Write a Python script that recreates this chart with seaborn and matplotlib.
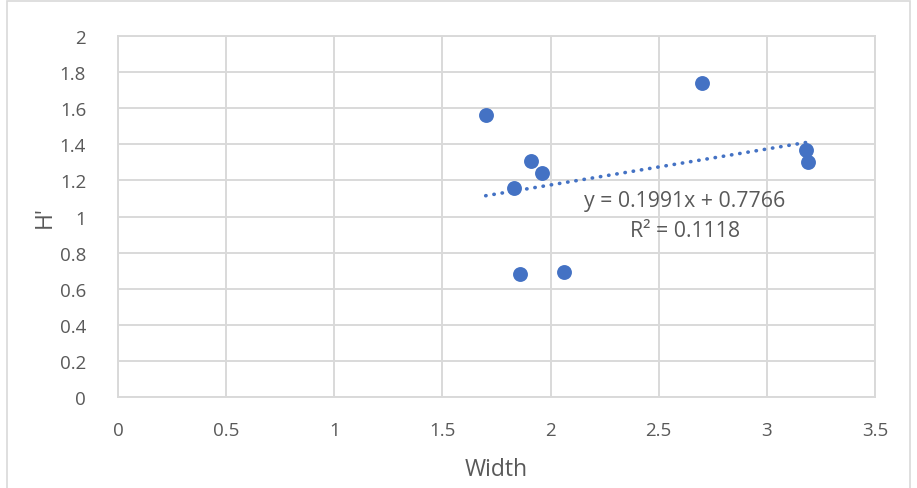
import numpy as np
import pandas as pd
import seaborn as sns
import matplotlib.pyplot as plt
from matplotlib.patches import Rectangle

# values
width = [1.70, 1.83, 1.91, 1.96, 1.86, 2.06, 2.70, 3.18, 3.19]
h_prime = [1.56, 1.16, 1.31, 1.24, 0.68, 0.69, 1.74, 1.37, 1.30]
x_ticks = [0, 0.5, 1, 1.5, 2, 2.5, 3, 3.5]
y_ticks = [0, 0.2, 0.4, 0.6, 0.8, 1, 1.2, 1.4, 1.6, 1.8, 2]
equation = "y = 0.1991x + 0.7766"
r_squared = "R² = 0.1118"

df = pd.DataFrame({"Width": width, "H'": h_prime})

sns.set_style("whitegrid")
plt.rcParams['font.family'] = ['Open Sans', 'DejaVu Sans']

blue = "#4472C4"
grey_txt = "#595959"
grid_col = "#D9D9D9"

fig = plt.figure(figsize=(9.17, 4.89), dpi=100)
ax = fig.add_axes([0.1287, 0.1861, 0.9542 - 0.1287, 0.9243 - 0.1861])

# chart border
fig.patches.append(Rectangle((0.008, -0.1), 0.984, 1.095, transform=fig.transFigure,
                             fill=False, edgecolor=grid_col, linewidth=1.2))

sns.scatterplot(data=df, x="Width", y="H'", ax=ax, color=blue, s=115,
                edgecolor=blue, linewidth=0, zorder=3)
sns.regplot(data=df, x="Width", y="H'", ax=ax, scatter=False, ci=None,
            line_kws=dict(color=blue, linestyle=(0, (0.1, 2.2)), linewidth=2.6,
                          dash_capstyle="round"))

ax.set_xlim(0, 3.5)
ax.set_ylim(0, 2)
ax.set_xticks(x_ticks)
ax.set_yticks(y_ticks)
ax.set_xticklabels([f"{t:g}" for t in x_ticks])
ax.set_yticklabels([f"{t:g}" for t in y_ticks])
ax.tick_params(axis="both", colors=grey_txt, labelsize=13.5, length=0)
ax.tick_params(axis="x", pad=17)
ax.tick_params(axis="y", pad=23)
ax.grid(True, color=grid_col, linewidth=1.4)
for sp in ax.spines.values():
    sp.set_color(grid_col)
    sp.set_linewidth(1.4)

ax.set_xlabel("Width", fontsize=16.5, color=grey_txt, labelpad=13)
ax.set_ylabel("H'", fontsize=16.5, color=grey_txt, labelpad=2)

ax.text(2.62, 1.09, equation, fontsize=15.3, color=grey_txt, ha="center", va="center")
ax.text(2.62, 0.925, r_squared, fontsize=15.3, color=grey_txt, ha="center", va="center")

fig.savefig("out.png", dpi=100)
